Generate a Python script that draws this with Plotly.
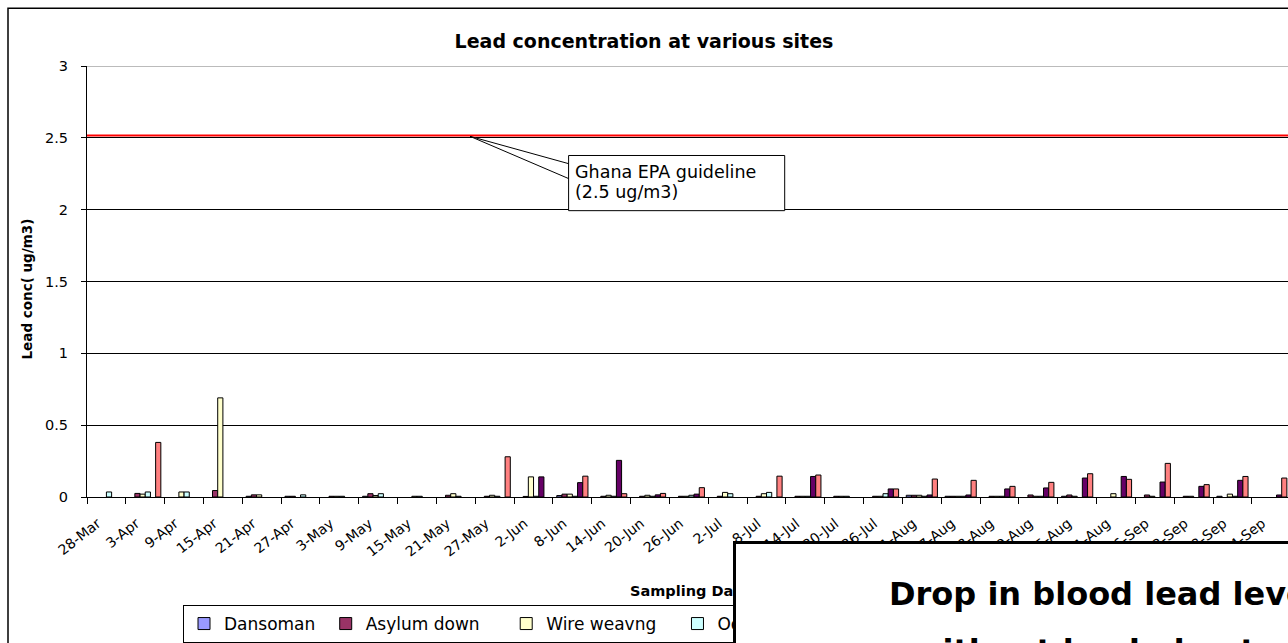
import plotly.graph_objects as go

# ---------------- data ----------------
dates = ["28-Mar", "3-Apr", "9-Apr", "15-Apr", "21-Apr", "27-Apr", "3-May", "9-May",
         "15-May", "21-May", "27-May", "2-Jun", "8-Jun", "14-Jun", "20-Jun", "26-Jun",
         "2-Jul", "8-Jul", "14-Jul", "20-Jul", "26-Jul", "1-Aug", "7-Aug", "13-Aug",
         "19-Aug", "25-Aug", "31-Aug", "6-Sep", "12-Sep", "18-Sep", "24-Sep"]

N = None
dansoman = [N, N, N, N, 0.005, 0.005, N, 0.005, N, N, N, N, 0.01, N, N, N,
            N, N, N, N, N, 0.012, 0.005, N, N, 0.005, N, N, N, 0.005, N]
asylum_down = [N, 0.025, N, 0.045, 0.015, 0.005, 0.005, 0.023, N, 0.012, 0.005, 0.004, 0.02, 0.005, 0.005, 0.005,
               0.005, 0.005, 0.005, 0.005, 0.005, 0.012, 0.005, 0.005, 0.014, 0.014, N, 0.014, 0.005, N, N]
wire_weaving = [N, 0.02, 0.035, 0.69, 0.015, N, 0.005, 0.01, 0.005, 0.023, 0.012, 0.14, 0.02, 0.012, 0.012, 0.005,
                0.032, 0.023, 0.005, 0.005, 0.005, 0.012, 0.005, 0.005, 0.005, 0.005, 0.023, 0.005, 0.005, 0.02, N]
site_o = [0.035, 0.035, 0.035, N, N, 0.015, 0.005, 0.023, 0.005, 0.005, 0.005, 0.005, 0.005, 0.005, 0.005, 0.012,
          0.023, 0.032, 0.005, 0.005, 0.023, 0.005, 0.005, 0.005, 0.005, N, N, N, N, 0.005, N]
site_5 = [N, N, N, N, N, N, N, N, N, N, N, 0.14, 0.10, 0.255, 0.015, 0.02,
          N, N, 0.143, N, 0.056, 0.014, 0.014, 0.056, 0.063, 0.132, 0.143, 0.104, 0.074, 0.116, 0.014]
site_6 = [N, 0.38, N, N, N, N, N, N, N, N, 0.28, N, 0.145, 0.023, 0.025, 0.065,
          N, 0.145, 0.153, N, 0.056, 0.125, 0.116, 0.074, 0.102, 0.162, 0.123, 0.234, 0.086, 0.143, 0.132]

series_names = ["Dansoman", "Asylum down", "Wire weavng", "Odorkor", "Kaneshie", "Tema"]
series_values = [dansoman, asylum_down, wire_weaving, site_o, site_5, site_6]
series_colors = ["#9999FF", "#993366", "#FFFFCC", "#CCFFFF", "#660066", "#FF8080"]
legend_pad = [1, 4, 3, 2, 2, 2]  # trailing spaces after each legend label

GUIDELINE = 2.5
y_ticks = [0, 0.5, 1, 1.5, 2, 2.5, 3]

# ---------------- geometry helpers ----------------
W, H = 1288, 643
ML, MR, MT, MB = 87, 0, 66, 145
PW, PH = W - ML - MR, H - MT - MB


def px(xp):
    return (xp - ML) / PW


def py(yp):
    return (H - MB - yp) / PH


FONT = "DejaVu Sans"

fig = go.Figure()
for name, vals, col, pad in zip(series_names, series_values, series_colors, legend_pad):
    fig.add_trace(go.Bar(
        x=dates, y=vals, name=name + "&nbsp;" * pad,
        marker=dict(color=col, line=dict(color="black", width=1)),
    ))

fig.update_layout(
    width=W, height=H,
    margin=dict(l=ML, r=MR, t=MT, b=MB),
    paper_bgcolor="white", plot_bgcolor="white",
    barmode="group", bargap=0.197, bargroupgap=0,
    font=dict(family=FONT, color="black"),
    title=dict(text="<b>Lead concentration at various sites</b>",
               x=644 / W, xanchor="center", xref="container",
               y=1 - 41 / H, yanchor="middle", yref="container",
               font=dict(family=FONT, size=19, color="black")),
    showlegend=True,
    legend=dict(orientation="h", x=px(183), xanchor="left", y=py(606), yanchor="top",
                bgcolor="white", bordercolor="black", borderwidth=1,
                font=dict(family=FONT, size=17, color="black"),
                traceorder="normal", itemwidth=30),
)

fig.update_xaxes(
    type="category", range=[-0.5, (W - 106.1) / 38.84], tickson="boundaries",
    showline=True, linecolor="black", linewidth=1,
    ticks="outside", ticklen=6, tickcolor="black",
    tickangle=-38, ticklabelstandoff=12, ticklabelshift=-9,
    tickfont=dict(family=FONT, size=14, color="black"),
    showgrid=False, zeroline=False,
)
fig.update_yaxes(
    range=[0, 3], tickvals=y_ticks, ticktext=[f"{v:g}" for v in y_ticks],
    showline=True, linecolor="black", linewidth=1,
    ticks="outside", ticklen=5, tickcolor="black", ticklabelstandoff=10,
    tickfont=dict(family=FONT, size=14.5, color="black"),
    showgrid=True, gridcolor="black", gridwidth=1, zeroline=False,
)

shapes = [
    # outer chart frame
    dict(type="rect", xref="paper", yref="paper", x0=px(8), y0=py(8), x1=px(1320), y1=py(720),
         line=dict(color="black", width=1.5), fillcolor="rgba(0,0,0,0)", layer="below"),
    # top of plot area in grey
    dict(type="line", xref="paper", yref="y", x0=0, x1=1, y0=3, y1=3,
         line=dict(color="#BBBBBB", width=2), layer="above"),
    # guideline (red) drawn just above the 2.5 gridline
    dict(type="line", xref="paper", yref="y", x0=0, x1=1,
         y0=GUIDELINE + 0.017, y1=GUIDELINE + 0.017,
         line=dict(color="#FF0000", width=2), layer="above"),
    # callout wedge
    dict(type="path", xref="paper", yref="paper",
         path=f"M{px(470)},{py(136.5)} L{px(569)},{py(164)} L{px(569)},{py(179)} Z",
         line=dict(color="black", width=1), fillcolor="white", layer="above"),
    # callout box
    dict(type="rect", xref="paper", yref="paper", x0=px(568.6), y0=py(155.7), x1=px(784.7), y1=py(211),
         line=dict(color="black", width=1), fillcolor="white", layer="above"),
]
fig.update_layout(shapes=shapes)

annotations = [
    dict(text="<b>Lead conc( ug/m3)</b>", xref="paper", yref="paper",
         x=px(27), y=py(290), xanchor="center", yanchor="middle", textangle=-90,
         showarrow=False, font=dict(family=FONT, size=13.5, color="black")),
    dict(text="Ghana EPA guideline", xref="paper", yref="paper",
         x=px(573), y=py(172), xanchor="left", yanchor="middle",
         showarrow=False, font=dict(family=FONT, size=17.5, color="black")),
    dict(text="(2.5 ug/m3)", xref="paper", yref="paper",
         x=px(573), y=py(192), xanchor="left", yanchor="middle",
         showarrow=False, font=dict(family=FONT, size=17.5, color="black")),
    dict(text="<b>Sampling Dates</b>", xref="paper", yref="paper",
         x=px(628), y=py(592), xanchor="left", yanchor="middle",
         showarrow=False, font=dict(family=FONT, size=14.5, color="black")),
    # overlay slide box
    dict(text=" ", xref="paper", yref="paper", x=px(733), y=py(542),
         xanchor="left", yanchor="top", width=700, height=200,
         bgcolor="white", bordercolor="black", borderwidth=3, showarrow=False),
    dict(text="<b>Drop in blood lead levels</b>", xref="paper", yref="paper",
         x=px(887), y=py(595), xanchor="left", yanchor="middle",
         showarrow=False, font=dict(family=FONT, size=32, color="black")),
    dict(text="<b>without leaded petrol</b>", xref="paper", yref="paper",
         x=px(911), y=py(652), xanchor="left", yanchor="middle",
         showarrow=False, font=dict(family=FONT, size=32, color="black")),
]
fig.update_layout(annotations=annotations)

fig.write_html("out.html", config={"displayModeBar": False},
               post_script="document.body.style.margin='0px';")
